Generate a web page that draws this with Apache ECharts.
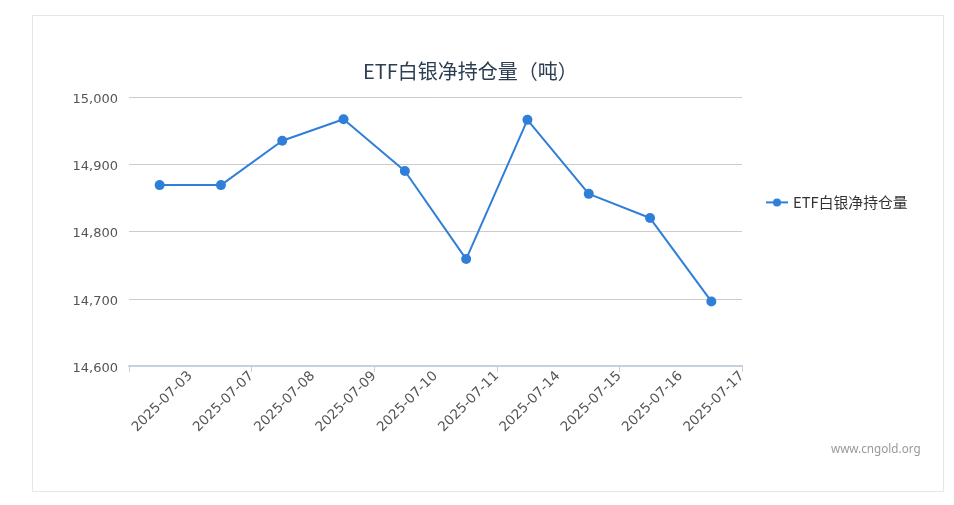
<!DOCTYPE html>
<html>
<head>
<meta charset="utf-8">
<script src="https://cdn.jsdelivr.net/npm/echarts@6/dist/echarts.min.js"></script>
<style>
html,body{margin:0;padding:0;background:#fff;}
#frame{position:absolute;left:32px;top:15px;width:910px;height:475px;border:1px solid #e6e6e6;}
#main{position:absolute;left:0;top:0;width:954px;height:505px;}
</style>
</head>
<body>
<div id="frame"></div>
<div id="main"></div>
<script>
const dates = ['2025-07-03','2025-07-07','2025-07-08','2025-07-09','2025-07-10','2025-07-11','2025-07-14','2025-07-15','2025-07-16','2025-07-17'];
const holdings = [14869, 14869, 14935, 14967, 14890, 14759, 14966, 14856, 14820, 14696];
const seriesName = 'ETF白银净持仓量';
const titleText = 'ETF白银净持仓量（吨）';
const yMin = 14600, yMax = 15000, yStep = 100;

const labelCats = [''].concat(dates);
const font = '"Noto Sans CJK SC", "Noto Sans", sans-serif';
const numFont = '"DejaVu Sans", sans-serif';
const chart = echarts.init(document.getElementById('main'), null, {renderer:'canvas'});
chart.setOption({
  animation: false,
  textStyle: {fontFamily: font},
  title: {
    text: titleText, left: 358, top: 56,
    textStyle: {fontSize: 20, fontWeight: 'normal', color: '#2c3e50', fontFamily: font}
  },
  legend: {
    data: [seriesName], orient: 'vertical', left: 760, top: 190,
    itemWidth: 22, itemHeight: 10,
    textStyle: {fontSize: 14.8, color: '#333', fontFamily: font}
  },
  graphic: [{
    type: 'text', left: 831, top: 444,
    style: {text: 'www.cngold.org', fill: '#999', fontSize: 11.7, fontFamily: '"Noto Sans", sans-serif'}
  }],
  grid: {left: 129, right: 212, top: 97, bottom: 139},
  xAxis: [{
    type: 'category', data: dates, boundaryGap: true, position: 'bottom',
    axisLine: {lineStyle: {color: '#c6d1de', width: 2}},
    axisTick: {show: true, length: 6, lineStyle: {color: '#c6d1de'}},
    axisLabel: {show: false}
  }, {
    type: 'category', data: labelCats, boundaryGap: false, position: 'bottom', offset: 0,
    axisLine: {show: false}, axisTick: {show: false},
    axisLabel: {rotate: 45, interval: 0, margin: 8, fontSize: 13.6, color: '#555', fontFamily: numFont}
  }],
  yAxis: {
    type: 'value', min: yMin, max: yMax, interval: yStep,
    axisLine: {show: false}, axisTick: {show: false},
    axisLabel: {fontSize: 13, color: '#555', margin: 11, fontFamily: numFont,
      formatter: v => '{a|' + v.toLocaleString('en-US') + '}',
      rich: {a: {fontSize: 13, color: '#555', fontFamily: numFont, padding: [5, 0, 0, 0]}}},
    splitLine: {lineStyle: {color: '#cccccc', width: 1}}
  },
  series: [{
    name: seriesName, type: 'line', data: holdings, xAxisIndex: 0,
    symbol: 'circle', symbolSize: 10,
    itemStyle: {color: '#2f7fd8'},
    lineStyle: {color: '#2f7fd8', width: 2}
  }]
});
</script>
</body>
</html>
